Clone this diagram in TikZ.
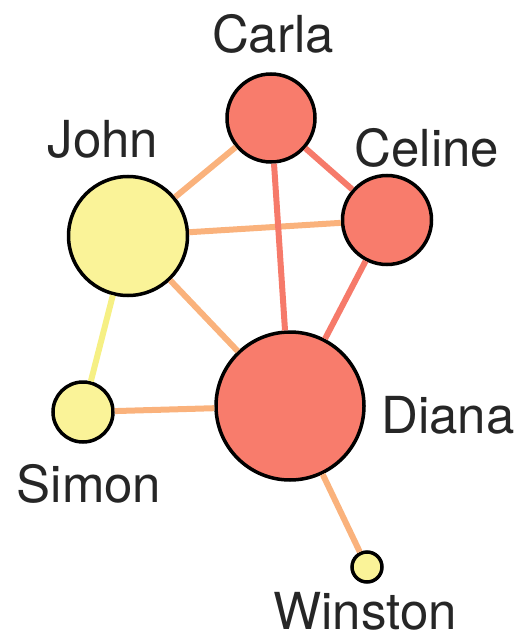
\documentclass[tikz,border=0pt]{standalone}
\usepackage{fontspec}
\setmainfont{TeX Gyre Heros}
\definecolor{nwred}{RGB}{248,124,108}
\definecolor{nwyellow}{RGB}{250,243,152}
\definecolor{nworange}{RGB}{250,178,124}
\definecolor{nwredline}{RGB}{246,122,106}
\definecolor{nwyellowline}{RGB}{246,240,132}
\usetikzlibrary{positioning}

\begin{document}
\begin{tikzpicture}[x=1pt, y=-1pt,
  person/.style={circle, draw=black, line width=3.5pt, inner sep=0pt},
  hot/.style={person, fill=nwred},
  cold/.style={person, fill=nwyellow},
  tag/.style={font=\fontsize{51}{53}\selectfont, text=black!85, anchor=base, inner sep=0pt},
  tie/.style={line width=6pt, nworange}]
\useasboundingbox (0,0) rectangle (518,636);
% people
\node[hot, minimum size=88pt] (carla) at (271,118) {};
\node[hot, minimum size=89pt] (celine) at (387,220) {};
\node[cold, minimum size=119pt] (john) at (128,236) {};
\node[hot, minimum size=148pt] (diana) at (290,406) {};
\node[cold, minimum size=60pt] (simon) at (83,412) {};
\node[cold, minimum size=30pt] (winston) at (367,567) {};
% names
\node[tag] (carlalbl) at (273,53) {Carla};
\node[tag] (johnlbl) at (103,158) {John};
\node[tag] (celinelbl) at (427,167) {Celine};
\node[tag] (dianalbl) at (448,433) {Diana};
\node[tag] (simonlbl) at (89,502) {Simon};
\node[tag] (winstonlbl) at (365,629) {Winston};
% ties
\draw[tie] (carla) -- (john);
\draw[tie] (john) -- (celine);
\draw[tie] (john) -- (diana);
\draw[tie] (simon) -- (diana);
\draw[tie] (diana) -- (winston);
\draw[tie, nwredline] (carla) -- (celine);
\draw[tie, nwredline] (carla) -- (diana);
\draw[tie, nwredline] (celine) -- (diana);
\draw[tie, nwyellowline] (john) -- (simon);
\end{tikzpicture}
\end{document}
